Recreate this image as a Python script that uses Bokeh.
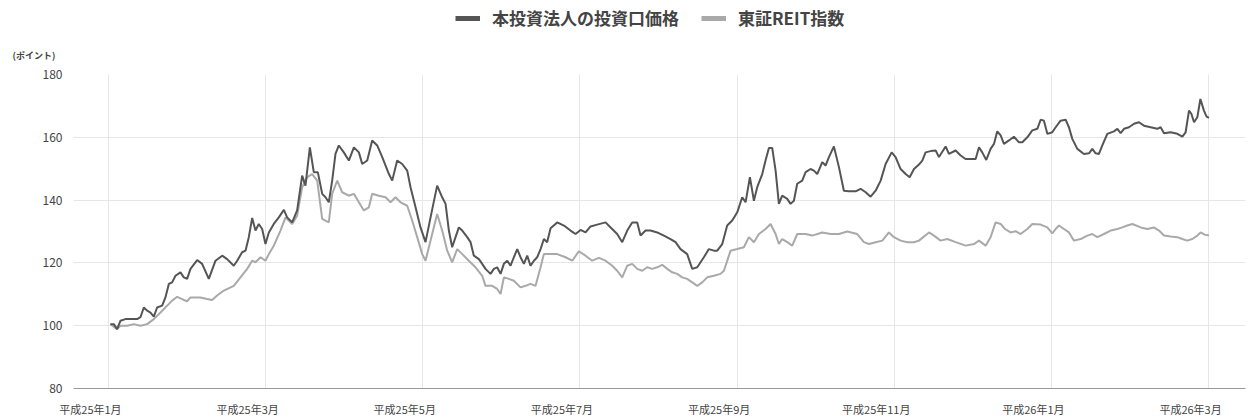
from bokeh.plotting import figure
from bokeh.layouts import column
from bokeh.models import (Range1d, LinearAxis, FixedTicker, Legend, LegendItem, Title)
from bokeh.embed import file_html
from bokeh.resources import INLINE

# ---- data (x = months since 平成25年1月, y = index points) ----
price_month = [0.025, 0.068, 0.110, 0.153, 0.216, 0.301, 0.365, 0.407, 0.450, 0.492, 0.535, 0.577, 0.619, 0.683,
               0.725, 0.768, 0.810, 0.853, 0.916, 0.959, 1.001, 1.044, 1.129, 1.192, 1.277, 1.362, 1.447, 1.510,
               1.595, 1.638, 1.701, 1.744, 1.786, 1.829, 1.871, 1.913, 1.956, 1.998, 2.041, 2.104, 2.168, 2.232,
               2.274, 2.338, 2.401, 2.465, 2.507, 2.563, 2.613, 2.664, 2.720, 2.762, 2.804, 2.847, 2.889, 2.932,
               2.995, 3.059, 3.123, 3.187, 3.229, 3.293, 3.356, 3.420, 3.484, 3.569, 3.611, 3.674, 3.738, 3.802,
               3.844, 3.908, 3.971, 4.035, 4.099, 4.183, 4.247, 4.290, 4.332, 4.374, 4.417, 4.459, 4.502, 4.565,
               4.608, 4.650, 4.714, 4.756, 4.798, 4.862, 4.905, 4.947, 4.990, 5.032, 5.075, 5.117, 5.159, 5.202,
               5.244, 5.287, 5.329, 5.371, 5.414, 5.456, 5.499, 5.541, 5.583, 5.626, 5.711, 5.796, 5.880, 5.944,
               6.008, 6.071, 6.135, 6.220, 6.326, 6.390, 6.474, 6.538, 6.602, 6.665, 6.729, 6.771, 6.835, 6.899,
               6.983, 7.068, 7.153, 7.217, 7.280, 7.365, 7.429, 7.493, 7.577, 7.641, 7.705, 7.747, 7.811, 7.874,
               7.938, 8.002, 8.065, 8.108, 8.163, 8.214, 8.256, 8.320, 8.362, 8.405, 8.447, 8.490, 8.532, 8.574,
               8.638, 8.680, 8.723, 8.765, 8.829, 8.872, 8.935, 8.977, 9.020, 9.084, 9.126, 9.169, 9.232, 9.296,
               9.359, 9.423, 9.508, 9.572, 9.636, 9.699, 9.763, 9.827, 9.890, 9.967, 10.017, 10.081, 10.145,
               10.196, 10.251, 10.314, 10.357, 10.399, 10.463, 10.527, 10.569, 10.654, 10.696, 10.781, 10.845,
               10.908, 10.972, 11.036, 11.078, 11.120, 11.171, 11.226, 11.269, 11.311, 11.354, 11.396, 11.460,
               11.523, 11.587, 11.630, 11.693, 11.757, 11.821, 11.863, 11.905, 11.948, 12.011, 12.054, 12.117,
               12.181, 12.223, 12.266, 12.330, 12.414, 12.478, 12.520, 12.563, 12.605, 12.648, 12.711, 12.796,
               12.839, 12.881, 12.924, 12.987, 13.051, 13.114, 13.178, 13.263, 13.348, 13.390, 13.433, 13.517,
               13.602, 13.666, 13.708, 13.751, 13.781, 13.815, 13.857, 13.896, 13.941, 13.975, 14.005]
price_value = [100.5, 100.5, 98.9, 101.6, 102.1, 102.1, 102.1, 102.7, 105.8, 104.8, 104.2, 102.9, 105.8, 106.4,
               109.0, 113.3, 113.8, 115.9, 117.0, 115.4, 114.9, 118.1, 120.9, 119.7, 114.9, 120.7, 122.3, 121.2,
               119.1, 120.7, 123.4, 123.9, 128.2, 134.3, 130.3, 132.4, 130.8, 126.0, 129.7, 132.4, 134.5, 136.9,
               134.5, 132.9, 136.7, 147.8, 144.6, 156.8, 148.9, 148.9, 142.0, 140.9, 139.3, 146.2, 154.7, 157.4,
               155.2, 152.6, 156.8, 155.2, 151.5, 152.6, 159.0, 157.4, 153.7, 148.3, 146.2, 152.6, 151.5, 149.4,
               144.1, 137.7, 131.3, 126.6, 134.5, 144.6, 140.9, 138.8, 130.3, 125.0, 128.2, 131.3, 130.3, 128.2,
               126.6, 122.3, 121.2, 119.7, 118.1, 116.5, 118.1, 118.6, 116.5, 119.7, 120.7, 119.1, 121.8, 124.4,
               121.8, 119.7, 122.3, 119.1, 120.7, 121.8, 124.4, 127.6, 126.6, 131.0, 132.9, 131.9, 130.3, 129.2,
               130.5, 129.7, 131.6, 132.2, 132.9, 131.3, 129.2, 126.6, 130.3, 132.9, 132.9, 128.7, 130.3, 130.3,
               129.7, 128.7, 127.6, 126.6, 124.4, 122.8, 118.1, 118.6, 121.8, 124.4, 123.9, 123.9, 126.0, 131.9,
               133.5, 136.1, 140.9, 139.3, 147.3, 139.8, 144.1, 148.3, 152.6, 156.6, 156.6, 149.4, 138.8, 141.4,
               140.4, 138.8, 139.8, 145.2, 146.2, 148.9, 149.9, 149.4, 148.3, 152.1, 151.0, 153.7, 157.1, 150.5,
               143.0, 142.8, 142.8, 143.6, 142.5, 141.1, 143.0, 146.2, 151.5, 155.2, 153.7, 149.9, 148.3,
               147.3, 149.9, 151.3, 152.6, 155.2, 155.6, 155.8, 153.7, 157.1, 154.7, 155.8, 154.2,
               153.1, 153.1, 153.1, 156.8, 155.2, 152.8, 156.3, 157.9, 161.9, 160.6, 157.9, 159.0,
               160.2, 158.4, 158.4, 160.0, 162.2, 162.7, 165.6, 165.3, 161.1, 161.6, 163.2, 165.3,
               165.6, 163.2, 159.5, 156.3, 154.7, 154.9, 156.3, 154.9, 154.7, 157.4, 161.1, 161.9,
               162.7, 161.3, 162.7, 163.2, 164.3, 164.8, 163.7, 163.2, 162.7, 163.2, 161.3, 161.6,
               161.1, 160.2, 161.6, 168.5, 167.5, 164.8, 166.4, 172.2, 168.5, 166.6, 166.2]

reit_month = [0.025, 0.110, 0.153, 0.238, 0.322, 0.407, 0.492, 0.577, 0.662, 0.747, 0.810, 0.874, 0.959, 1.001,
              1.044, 1.171, 1.256, 1.319, 1.383, 1.468, 1.595, 1.680, 1.765, 1.829, 1.871, 1.935, 1.998, 2.041,
              2.104, 2.189, 2.253, 2.338, 2.401, 2.465, 2.529, 2.592, 2.656, 2.720, 2.804, 2.847, 2.911, 2.974,
              3.059, 3.123, 3.187, 3.250, 3.314, 3.356, 3.441, 3.526, 3.590, 3.653, 3.717, 3.802, 3.865, 3.929,
              3.993, 4.035, 4.099, 4.183, 4.247, 4.311, 4.374, 4.438, 4.502, 4.586, 4.671, 4.756, 4.798, 4.883,
              4.947, 4.990, 5.032, 5.096, 5.159, 5.244, 5.308, 5.371, 5.435, 5.499, 5.541, 5.605, 5.711, 5.817,
              5.902, 5.986, 6.071, 6.156, 6.241, 6.326, 6.411, 6.474, 6.538, 6.602, 6.665, 6.729, 6.793, 6.856,
              6.920, 6.983, 7.047, 7.111, 7.174, 7.238, 7.301, 7.365, 7.429, 7.493, 7.556, 7.620, 7.705, 7.789,
              7.832, 7.917, 8.002, 8.086, 8.150, 8.214, 8.278, 8.362, 8.426, 8.490, 8.532, 8.574, 8.638, 8.702,
              8.765, 8.872, 8.956, 9.084, 9.190, 9.296, 9.402, 9.529, 9.614, 9.678, 9.763, 9.848, 9.932, 9.996,
              10.081, 10.165, 10.251, 10.314, 10.442, 10.505, 10.590, 10.675, 10.781, 10.908, 11.014, 11.078,
              11.163, 11.226, 11.290, 11.354, 11.409, 11.481, 11.545, 11.608, 11.693, 11.757, 11.863, 11.948,
              12.011, 12.054, 12.096, 12.160, 12.223, 12.287, 12.372, 12.457, 12.520, 12.584, 12.669, 12.754,
              12.839, 12.902, 12.966, 13.030, 13.136, 13.221, 13.305, 13.369, 13.433, 13.517, 13.602, 13.666,
              13.729, 13.793, 13.857, 13.899, 13.950, 14.005]
reit_value = [100.5, 98.9, 100.0, 100.0, 100.5, 100.0, 100.5, 102.1, 104.2, 106.4, 108.0, 109.2, 108.2, 107.8,
              109.0, 109.0, 108.5, 108.2, 109.6, 111.2, 112.7, 115.4, 118.1, 120.7, 120.2, 121.8, 120.7, 122.8,
              125.5, 130.3, 134.5, 132.4, 135.0, 144.1, 147.3, 148.3, 146.2, 134.0, 132.9, 142.0, 146.2, 142.5,
              141.4, 142.0, 139.3, 136.7, 137.7, 142.0, 141.4, 140.9, 139.3, 140.9, 139.3, 138.2, 133.5, 128.2,
              122.8, 120.7, 127.1, 135.6, 130.3, 123.9, 120.2, 124.4, 122.8, 120.7, 118.6, 115.9, 112.7, 112.7,
              111.7, 110.1, 115.4, 114.9, 114.3, 112.2, 112.7, 113.3, 112.7, 118.6, 122.8, 122.8, 122.8, 121.8,
              120.7, 123.7, 122.3, 120.7, 121.6, 120.7, 119.1, 117.5, 115.4, 119.1, 119.7, 118.1, 117.5, 118.6,
              118.1, 118.6, 119.4, 118.1, 117.0, 116.5, 115.4, 114.9, 113.8, 112.7, 113.8, 115.4, 115.9, 116.5,
              117.5, 123.9, 124.4, 125.0, 128.2, 126.6, 129.2, 130.8, 132.4, 129.2, 126.0, 127.6, 126.6, 125.5,
              129.2, 129.2, 128.7, 129.7, 129.2, 129.2, 130.0, 129.2, 126.6, 126.0, 126.6, 127.1, 129.7, 128.2,
              127.1, 126.6, 126.6, 127.1, 129.7, 128.7, 127.1, 127.6, 126.6, 125.5, 126.0, 127.1,
              125.5, 128.2, 132.9, 132.4, 130.8, 129.7, 130.1, 129.2, 130.8, 132.4, 132.2, 131.3,
              129.4, 130.8, 131.9, 130.8, 129.7, 127.1, 127.6, 128.7, 129.2, 128.2, 129.2, 130.3,
              130.8, 131.3, 131.9, 132.4, 131.3, 130.8, 131.3, 130.3, 128.7, 128.4, 128.2, 127.6,
              127.1, 127.6, 128.7, 129.7, 129.0, 128.7]

tick_months = [0, 2, 4, 6, 8, 10, 12, 14]
tick_labels = ["平成25年1月", "平成25年3月", "平成25年5月", "平成25年7月",
               "平成25年9月", "平成25年11月", "平成26年1月", "平成26年3月"]
y_ticks = [80, 100, 120, 140, 160, 180]
series_names = ["本投資法人の投資口価格", "東証REIT指数"]
unit_label = "(ポイント)"

FONT = "Noto Sans CJK JP"
DARK = "#555555"
LIGHT = "#a9a9a9"
GRID = "#e6e6e6"
TEXT = "#444444"
W = 1250
TOP_H = 32

# ---------- header strip: legend (its frame is aligned with the chart's frame) ----------
head = figure(width=W, height=TOP_H, output_backend="svg", toolbar_location=None,
              x_range=Range1d(0, 1), y_range=Range1d(1000, 1001),
              x_axis_location=None, y_axis_location=None,
              min_border_left=73, min_border_right=5, min_border_top=0, min_border_bottom=0)
head.outline_line_color = None
head.xgrid.visible = False
head.ygrid.visible = False

# legend keys: the same series drawn with thick strokes, kept out of the header's view
k1 = head.line(price_month, price_value, line_color=DARK, line_width=5)
k2 = head.line(reit_month, reit_value, line_color=LIGHT, line_width=5)
leg = Legend(items=[LegendItem(label=series_names[0], renderers=[k1]),
                    LegendItem(label=series_names[1], renderers=[k2])],
             orientation="horizontal", location=(382, 2), padding=0, margin=0,
             spacing=22, glyph_width=25, glyph_height=20, label_height=20,
             label_standoff=12, border_line_color=None, background_fill_alpha=0,
             label_text_font=FONT, label_text_font_size="17px",
             label_text_color=TEXT, label_text_font_style="bold")
head.add_layout(leg, "center")

# ---------- main chart ----------
X0, X1 = -0.445, 14.47
p = figure(width=W, height=419 - TOP_H, output_backend="svg", toolbar_location=None,
           x_range=Range1d(X0, X1), y_range=Range1d(80, 180),
           x_axis_location=None, min_border_left=73, min_border_right=5,
           min_border_top=74 - TOP_H, min_border_bottom=31)
p.outline_line_color = None
p.background_fill_color = "white"

p.add_layout(Title(text=unit_label, align="left", offset=-61, standoff=26,
                   text_font=FONT, text_font_size="9px", text_font_style="bold",
                   text_color=TEXT), "above")

p.xgrid.ticker = FixedTicker(ticks=tick_months)
p.xgrid.grid_line_color = GRID
p.ygrid.ticker = FixedTicker(ticks=y_ticks)
p.ygrid.grid_line_color = GRID

p.yaxis.ticker = FixedTicker(ticks=y_ticks)
p.yaxis.axis_line_color = None
p.yaxis.major_tick_line_color = None
p.yaxis.minor_tick_line_color = None
p.yaxis.major_label_standoff = 5
p.yaxis.major_label_text_font = FONT
p.yaxis.major_label_text_font_size = "12px"
p.yaxis.major_label_text_color = TEXT

# x axis: labels sit slightly left of their gridlines in the original
shift = 18 / ((1245 - 73) / (X1 - X0))
p.extra_x_ranges = {"lab": Range1d(X0 + shift, X1 + shift)}
xa = LinearAxis(x_range_name="lab", ticker=FixedTicker(ticks=tick_months),
                major_label_overrides={m: s for m, s in zip(tick_months, tick_labels)})
xa.axis_line_color = "#9a9a9a"
xa.axis_line_width = 1.2
xa.major_tick_line_color = None
xa.minor_tick_line_color = None
xa.major_tick_out = 0
xa.major_tick_in = 0
xa.major_label_standoff = 12
xa.major_label_text_font = FONT
xa.major_label_text_font_size = "11px"
xa.major_label_text_color = TEXT
p.add_layout(xa, "below")

p.line(reit_month, reit_value, line_color=LIGHT, line_width=2)
p.line(price_month, price_value, line_color=DARK, line_width=2)

layout = column(head, p, spacing=0)
open("out.html", "w").write(file_html(layout, INLINE))
